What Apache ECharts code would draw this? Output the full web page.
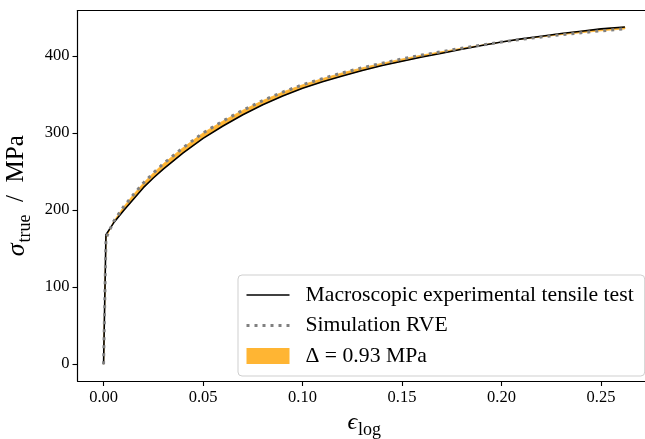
<!DOCTYPE html>
<html>
<head>
<meta charset="utf-8">
<script src="https://cdn.jsdelivr.net/npm/echarts@6/dist/echarts.min.js"></script>
<style>
html,body{margin:0;padding:0;background:#fff;}
#chart{width:645px;height:439px;}
</style>
</head>
<body>
<div id="chart"></div>
<script>
// ---- data ----
const strain = [0, 0.0012, 0.002, 0.005, 0.01, 0.015, 0.02, 0.025, 0.03, 0.04, 0.05, 0.06, 0.07, 0.08, 0.09, 0.10,
  0.11, 0.12, 0.13, 0.14, 0.15, 0.16, 0.17, 0.18, 0.19, 0.20, 0.21, 0.22, 0.23, 0.24, 0.25, 0.262];
const expStress = [0, 168, 170, 183, 199, 214, 229, 241.5, 253, 274, 293, 309, 323.5, 336.5, 348, 358,
  366.5, 374, 381, 387.5, 393, 398.5, 403.5, 408.5, 413.5, 418, 422, 425.5, 429, 432, 435, 437.5];
const simStress = [0, 163, 168, 185, 204, 220, 235, 248, 260, 281, 300, 315.5, 329.5, 342, 353, 362.5,
  370.5, 378, 384.5, 390.5, 396, 401, 405.5, 410, 414, 418, 421.5, 424.5, 427.5, 430, 432.5, 435];
const xTicks = [0, 0.05, 0.10, 0.15, 0.20, 0.25];
const yTicks = [0, 100, 200, 300, 400];
const nameExp = 'Macroscopic experimental tensile test';
const nameSim = 'Simulation RVE';
const nameDelta = '\u0394 = 0.93 MPa';

const pair = (xs, ys) => xs.map((x, i) => [x, ys[i]]);

const xMin = -0.0131, xMax = 0.2751;
const yMin = -21.85, yMax = 458.85;
const FONT = "'Liberation Serif', 'DejaVu Serif', serif";
const ORANGE = '#ffb533';
const GRAY = '#808080';

const chart = echarts.init(document.getElementById('chart'), null, {renderer: 'canvas'});
chart.setOption({
  animation: false,
  backgroundColor: '#ffffff',
  textStyle: {fontFamily: FONT},
  grid: {left: 77.5, top: 10.5, right: -6, bottom: 58, containLabel: false, outerBoundsMode: 'none'},
  xAxis: [{
    type: 'value', min: xMin, max: xMax,
    splitLine: {show: false},
    axisLine: {show: true, onZero: false, lineStyle: {color: '#000', width: 1.2}},
    axisTick: {show: true, customValues: xTicks, length: 5, lineStyle: {color: '#000', width: 1.1}},
    axisLabel: {customValues: xTicks, formatter: v => v.toFixed(2), color: '#000', fontSize: 16.5, fontFamily: FONT, margin: 8},
    name: '{a|\u03F5}{b|log}',
    nameLocation: 'middle', nameGap: 21,
    nameTextStyle: {
      rich: {
        a: {fontSize: 24, fontStyle: 'italic', fontFamily: FONT, color: '#000', lineHeight: 24, verticalAlign: 'top'},
        b: {fontSize: 18, fontFamily: FONT, color: '#000', lineHeight: 18, padding: [10, 0, 0, 1], verticalAlign: 'top'}
      }
    }
  }, {
    type: 'value', min: xMin, max: xMax, position: 'top',
    splitLine: {show: false},
    axisLine: {show: true, onZero: false, lineStyle: {color: '#000', width: 1.2}},
    axisTick: {show: false}, axisLabel: {show: false}
  }],
  yAxis: {
    type: 'value', min: yMin, max: yMax,
    splitLine: {show: false},
    axisLine: {show: true, onZero: false, lineStyle: {color: '#000', width: 1.2}},
    axisTick: {show: true, customValues: yTicks, length: 5, lineStyle: {color: '#000', width: 1.1}},
    axisLabel: {customValues: yTicks, color: '#000', fontSize: 16.5, fontFamily: FONT, margin: 8},
    name: '{a|\u03C3}{b|true}{c|  /  MPa}',
    nameLocation: 'middle', nameRotate: 90, nameGap: 37,
    nameTextStyle: {
      rich: {
        a: {fontSize: 26, fontStyle: 'italic', fontFamily: FONT, color: '#000', lineHeight: 26, verticalAlign: 'top'},
        b: {fontSize: 18, fontFamily: FONT, color: '#000', lineHeight: 18, padding: [12, 0, 0, 1], verticalAlign: 'top'},
        c: {fontSize: 25, fontFamily: FONT, color: '#000', lineHeight: 26, verticalAlign: 'top'}
      }
    }
  },
  legend: {
    orient: 'vertical', left: 238, top: 275,
    data: [
      {name: nameExp, lineStyle: {color: '#000', width: 1.6}},
      {name: nameSim, lineStyle: {color: GRAY, width: 3, type: [3, 5]}},
      {name: nameDelta, icon: 'rect', itemStyle: {opacity: 1, color: ORANGE}}
    ],
    itemWidth: 43, itemHeight: 16, itemGap: 8.5,
    itemStyle: {opacity: 0},
    padding: [9, 11, 9, 7],
    backgroundColor: 'rgba(255,255,255,0.85)',
    borderColor: '#cfcfcf', borderWidth: 1, borderRadius: 4,
    textStyle: {fontSize: 21.7, lineHeight: 20, fontFamily: FONT, color: '#000', padding: [0, 0, 0, 11]},
    selectedMode: false
  },
  series: [
    {
      name: nameDelta, type: 'custom', silent: true, z: 1,
      data: strain.map((x, i) => [x, expStress[i], simStress[i]]),
      encode: {x: 0, y: [1, 2]},
      itemStyle: {color: ORANGE},
      renderItem: (params, api) => {
        if (params.dataIndex !== 0) return null;
        const upper = strain.map((x, i) => api.coord([x, expStress[i]]));
        const lower = strain.map((x, i) => api.coord([x, simStress[i]])).reverse();
        return {type: 'polygon', shape: {points: upper.concat(lower)}, style: {fill: ORANGE, stroke: ORANGE, lineWidth: 0.8}};
      }
    },
    {
      name: nameExp, type: 'line', data: pair(strain, expStress),
      symbol: 'none', color: '#000',
      lineStyle: {color: '#000', width: 1.6}, z: 3
    },
    {
      name: nameSim, type: 'line', data: pair(strain, simStress),
      symbol: 'none', color: GRAY,
      lineStyle: {color: GRAY, width: 3, type: [3, 5]}, z: 4
    }
  ]
});
</script>
</body>
</html>
